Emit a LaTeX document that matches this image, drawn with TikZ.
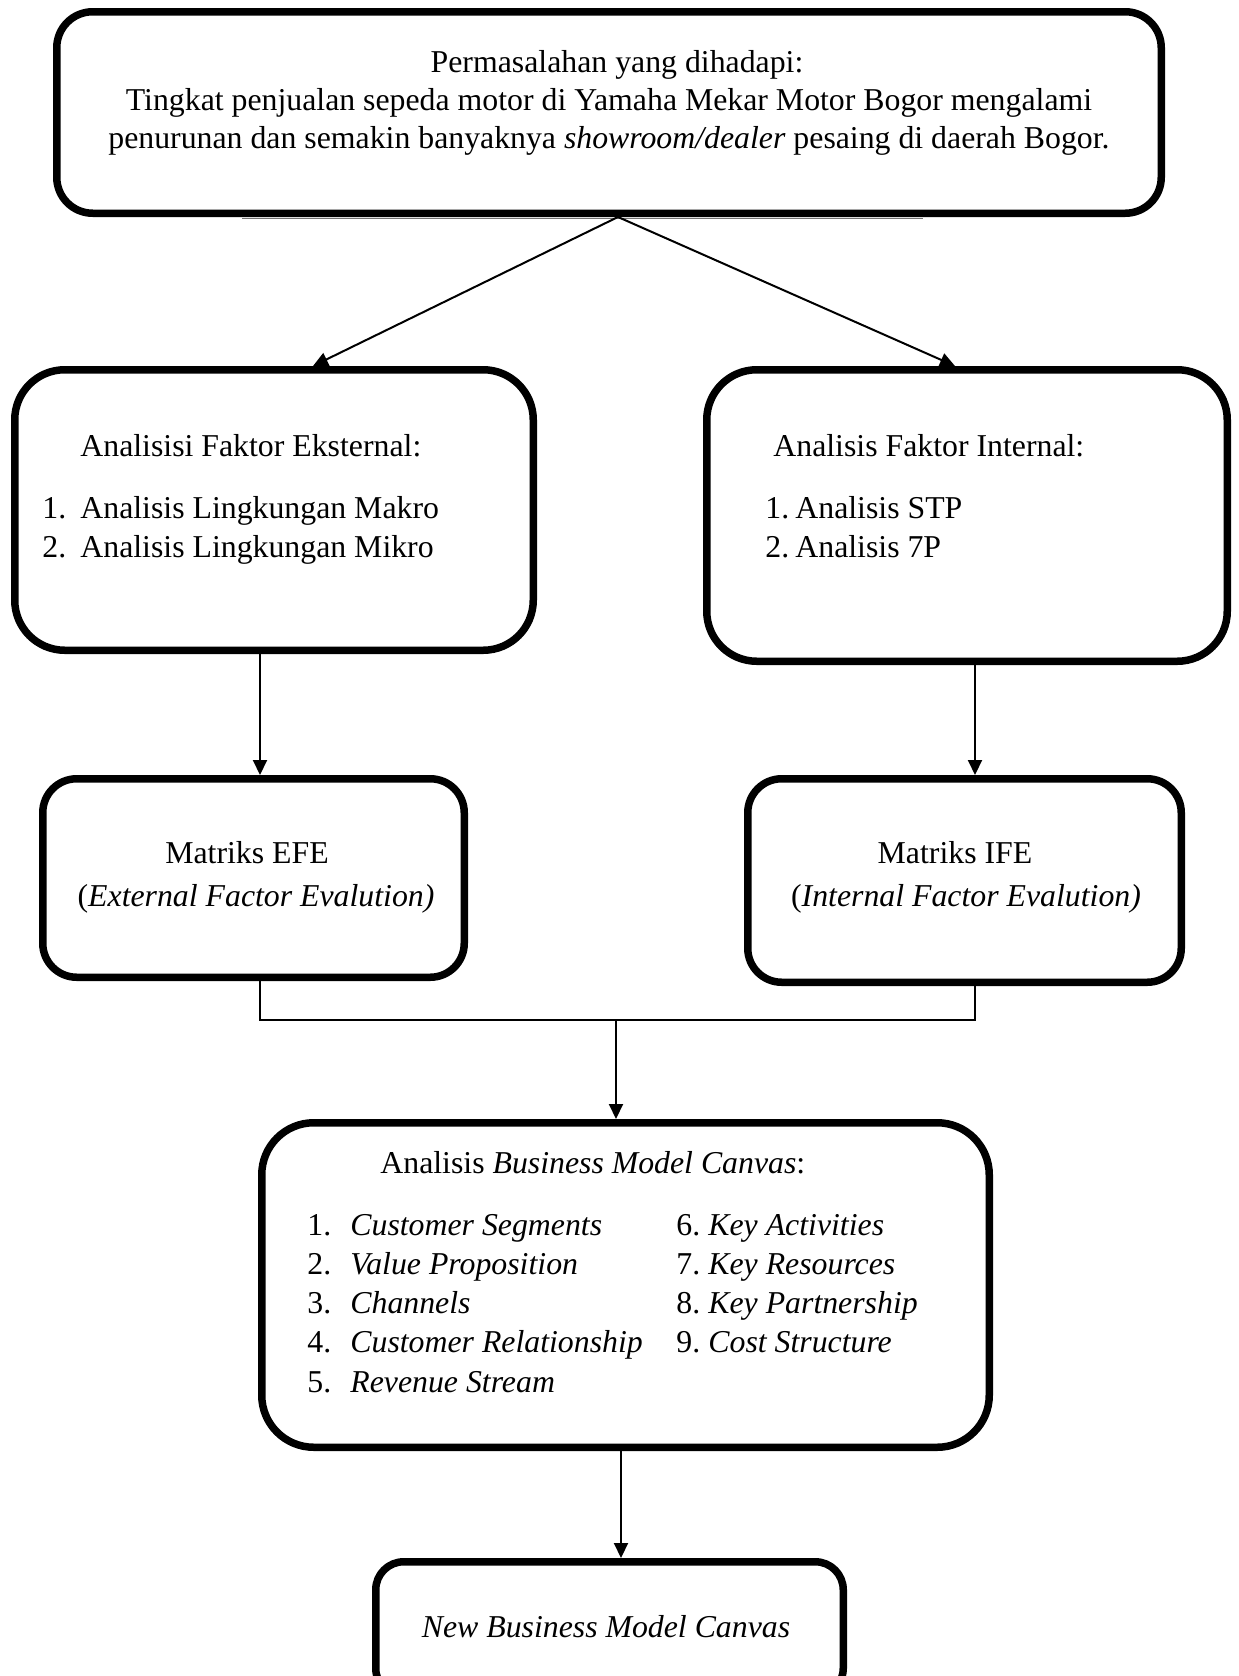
\documentclass[tikz,border=0pt]{standalone}
\usepackage{fontspec}
\setmainfont{Liberation Serif}
\usetikzlibrary{arrows.meta,calc}
\begin{document}
\begin{tikzpicture}[x=0.5pt,y=-0.5pt,
  box/.style={draw, line width=3.75pt, rounded corners=#1, inner sep=0pt, outer sep=1.875pt},
  box/.default=23pt,
  conn/.style={line width=1pt},
  arr/.style={line width=1pt, -{Triangle[length=7.5pt,width=7pt]}},
  txt/.style={inner sep=0pt, font=\fontsize{15.9pt}{19.5pt}\selectfont},
]
\clip (0,0) rectangle (1238,1676);
\fill[white] (0,0) rectangle (1238,1676);

% boxes
\node[box=18pt, minimum width=552.25pt, minimum height=100.75pt] (top) at (609,112.5) {};
\node[box=25pt, minimum width=259.25pt, minimum height=140.25pt] (ext) at (274,510) {};
\node[box=25pt, minimum width=260.25pt, minimum height=145.75pt] (int) at (967,515.5) {};
\node[box=17pt, minimum width=210.75pt, minimum height=99.25pt] (efe) at (253.5,878) {};
\node[box=17pt, minimum width=216.75pt, minimum height=101.75pt] (ife) at (964.5,880.5) {};
\node[box=26pt, minimum width=363.75pt, minimum height=162.25pt] (bmc) at (625.5,1285) {};
\node[box=14pt, minimum width=233.75pt, minimum height=67.25pt] (nbmc) at (609.5,1629) {};

% thin line under top box
\draw[line width=0.6pt, black!55] (242,218.5) -- (923,218.5);

% column coordinates
\coordinate (cL) at (260,0);
\coordinate (cR) at (975,0);
\coordinate (cB) at (621,0);
\coordinate (j) at (616,1020);

% connectors
\draw[arr] ($(top.south)+(9,0)$) -- ($(ext.north)+(39,0)$);
\draw[arr] ($(top.south)+(9,0)$) -- ($(int.north)+(-12,0)$);
\draw[arr] (ext.south -| cL) -- (efe.north -| cL);
\draw[arr] (int.south -| cR) -- (ife.north -| cR);
\draw[conn] (efe.south -| cL) |- (j) -| (ife.south -| cR);
\draw[arr] (j) -- (bmc.north -| j);
\draw[arr] (bmc.south -| cB) -- (nbmc.north -| cB);

% top box text
\node[txt, anchor=base] (t1) at (617,72) {Permasalahan yang dihadapi:};
\node[txt, anchor=base] (t2) at (609,110) {Tingkat penjualan sepeda motor di Yamaha Mekar Motor Bogor mengalami};
\node[txt, anchor=base] (t3) at (609,148) {penurunan dan semakin banyaknya \textit{showroom/dealer} pesaing di daerah Bogor.};

% external
\node[txt, anchor=base west] (e0) at (80,456) {Analisisi Faktor Eksternal:};
\node[txt, anchor=base west] (e1n) at (42,518) {1.};
\node[txt, anchor=base west] (e1) at (80,518) {Analisis Lingkungan Makro};
\node[txt, anchor=base west] (e2n) at (42,557) {2.};
\node[txt, anchor=base west] (e2) at (80,557) {Analisis Lingkungan Mikro};

% internal
\node[txt, anchor=base west] (i0) at (773,456) {Analisis Faktor Internal:};
\node[txt, anchor=base west] (i1n) at (765,518) {1.};
\node[txt, anchor=base west] (i1) at (795,518) {Analisis STP};
\node[txt, anchor=base west] (i2n) at (765,557) {2.};
\node[txt, anchor=base west] (i2) at (795,557) {Analisis 7P};

% EFE / IFE
\node[txt, anchor=base] (f1) at (247,863) {Matriks EFE};
\node[txt, anchor=base] (f2) at (256,906) {(\textit{External Factor Evalution)}};
\node[txt, anchor=base] (g1) at (955,863) {Matriks IFE};
\node[txt, anchor=base] (g2) at (966,906) {(\textit{Internal Factor Evalution)}};

% BMC
\node[txt, anchor=base west] (b0) at (380,1173) {Analisis \textit{Business Model Canvas}:};
\node[txt, anchor=base west] (b1n) at (307,1235) {1.};
\node[txt, anchor=base west] (b1) at (350,1235) {\textit{Customer Segments}};
\node[txt, anchor=base west] (b2n) at (307,1274) {2.};
\node[txt, anchor=base west] (b2) at (350,1274) {\textit{Value Proposition}};
\node[txt, anchor=base west] (b3n) at (307,1313) {3.};
\node[txt, anchor=base west] (b3) at (350,1313) {\textit{Channels}};
\node[txt, anchor=base west] (b4n) at (307,1352) {4.};
\node[txt, anchor=base west] (b4) at (350,1352) {\textit{Customer Relationship}};
\node[txt, anchor=base west] (b5n) at (307,1392) {5.};
\node[txt, anchor=base west] (b5) at (350,1392) {\textit{Revenue Stream}};
\node[txt, anchor=base west] (b6n) at (676,1235) {6.};
\node[txt, anchor=base west] (b6) at (708,1235) {\textit{Key Activities}};
\node[txt, anchor=base west] (b7n) at (676,1274) {7.};
\node[txt, anchor=base west] (b7) at (708,1274) {\textit{Key Resources}};
\node[txt, anchor=base west] (b8n) at (676,1313) {8.};
\node[txt, anchor=base west] (b8) at (708,1313) {\textit{Key Partnership}};
\node[txt, anchor=base west] (b9n) at (676,1352) {9.};
\node[txt, anchor=base west] (b9) at (708,1352) {\textit{Cost Structure}};

% last
\node[txt, anchor=base] (n1) at (606,1637) {\textit{New Business Model Canvas}};
\end{tikzpicture}
\end{document}
